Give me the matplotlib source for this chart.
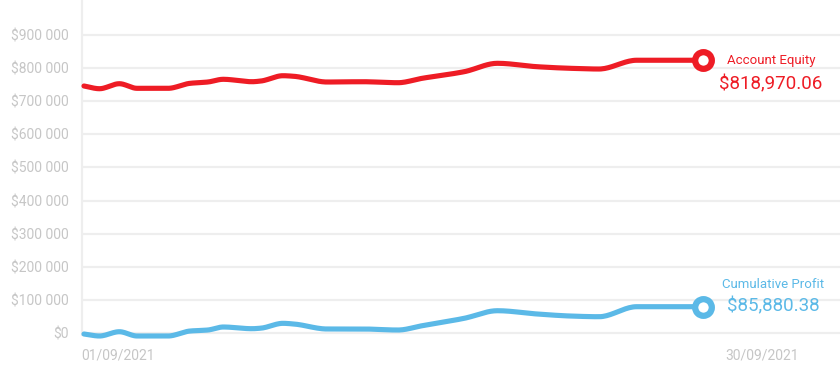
import matplotlib
matplotlib.use("Agg")
import matplotlib.pyplot as plt
import numpy as np

# x positions in days since 01/09/2021
days = [0, 0.7, 1.6, 2.4, 3.8, 4.8, 5.6, 6.3, 7.6, 8.0, 9.0, 9.5, 11.0,
        12.6, 14.2, 15.3, 17.2, 18.7, 20.5, 22.0, 23.3, 25.0, 28.0]
equity = [745400, 737200, 752300, 738400, 738400, 753500, 757400, 765600,
          758300, 760400, 776400, 774600, 757400, 758300, 755300, 768600,
          788500, 813800, 803500, 798700, 796600, 823000, 823000]
profit = [-2100, -8100, 4800, -8100, -8100, 6900, 9900, 19000, 13900, 15500,
          30100, 28000, 13000, 13000, 9900, 22900, 45200, 68100, 58200, 52100,
          50000, 80200, 80200]
y_ticks = [0, 100000, 200000, 300000, 400000, 500000, 600000, 700000, 800000, 900000]
x_ticks = [0, 29]
x_tick_labels = ["01/09/2021", "30/09/2021"]
equity_label = "Account Equity"
equity_value = "$818,970.06"
profit_label = "Cumulative Profit"
profit_value = "$85,880.38"

RED = "#ee1c25"
BLUE = "#5bb9e7"
GRAY = "#c6c6c6"
GRID = "#eeeeee"


def monotone_curve(x, y, n=20):
    """Monotone cubic (Fritsch-Carlson) rendering of a polyline."""
    x = np.asarray(x, float)
    y = np.asarray(y, float)
    h = np.diff(x)
    d = np.diff(y) / h
    m = np.zeros_like(y)
    m[0], m[-1] = d[0], d[-1]
    for i in range(1, len(y) - 1):
        if d[i - 1] * d[i] <= 0:
            m[i] = 0
        else:
            w1 = 2 * h[i] + h[i - 1]
            w2 = h[i] + 2 * h[i - 1]
            m[i] = (w1 + w2) / (w1 / d[i - 1] + w2 / d[i])
    xs, ys = [], []
    for i in range(len(x) - 1):
        t = np.linspace(0, 1, n, endpoint=False)
        h00 = 2 * t**3 - 3 * t**2 + 1
        h10 = t**3 - 2 * t**2 + t
        h01 = -2 * t**3 + 3 * t**2
        h11 = t**3 - t**2
        xs.append(x[i] + t * h[i])
        ys.append(h00 * y[i] + h10 * h[i] * m[i] + h01 * y[i + 1] + h11 * h[i] * m[i + 1])
    xs.append([x[-1]])
    ys.append([y[-1]])
    return np.concatenate(xs), np.concatenate(ys)


plt.rcParams["font.family"] = ["Roboto", "DejaVu Sans"]

fig = plt.figure(figsize=(8.4, 3.83), dpi=100)
ax = fig.add_axes([82 / 840, 48 / 383, 758 / 840, 335 / 383])

ax.set_ylim(-5100, 1004600)
ax.set_xlim(-0.09, 34.2)

ax.set_yticks(y_ticks)
ax.set_yticklabels(["$" + format(v, ",").replace(",", " ") for v in y_ticks])
ax.set_xticks(x_ticks)
ax.set_xticklabels([])
ax.tick_params(axis="both", length=0, colors=GRAY, labelsize=10)
ax.tick_params(axis="y", pad=9.5)
for xv, lab, dx in zip(x_ticks, x_tick_labels, [-3, 0]):
    ax.annotate(lab, xy=(xv, 0), xycoords=ax.get_xaxis_transform(),
                xytext=(dx, -21), textcoords="offset pixels",
                ha="left", va="center", color=GRAY, fontsize=10,
                annotation_clip=False)

ax.grid(axis="y", color=GRID, linewidth=1.6)
ax.grid(axis="x", visible=False)
ax.set_axisbelow(True)
for s in ["top", "right", "bottom"]:
    ax.spines[s].set_visible(False)
ax.spines["left"].set_color(GRID)
ax.spines["left"].set_linewidth(1.6)

for series, col in [(equity, RED), (profit, BLUE)]:
    sx, sy = monotone_curve(days, series)
    ax.plot(sx, sy, color=col, linewidth=3.7, solid_joinstyle="round",
            solid_capstyle="round", clip_on=False, zorder=3)
    ax.plot([days[-1]], [series[-1]], marker="o", markersize=12, markeredgewidth=4.5,
            markerfacecolor="white", markeredgecolor=col, clip_on=False, zorder=4)

ax.annotate(equity_label, xy=(days[-1], equity[-1]), xytext=(68, 0),
            textcoords="offset pixels", ha="center", va="center",
            color=RED, fontsize=9.5)
ax.annotate(equity_value, xy=(days[-1], equity[-1]), xytext=(68, -24),
            textcoords="offset pixels", ha="center", va="center",
            color=RED, fontsize=13.5)
ax.annotate(profit_label, xy=(days[-1], profit[-1]), xytext=(70, 22),
            textcoords="offset pixels", ha="center", va="center",
            color=BLUE, fontsize=9.5)
ax.annotate(profit_value, xy=(days[-1], profit[-1]), xytext=(70, 0),
            textcoords="offset pixels", ha="center", va="center",
            color=BLUE, fontsize=13.5)

fig.savefig("out.png", dpi=100)
